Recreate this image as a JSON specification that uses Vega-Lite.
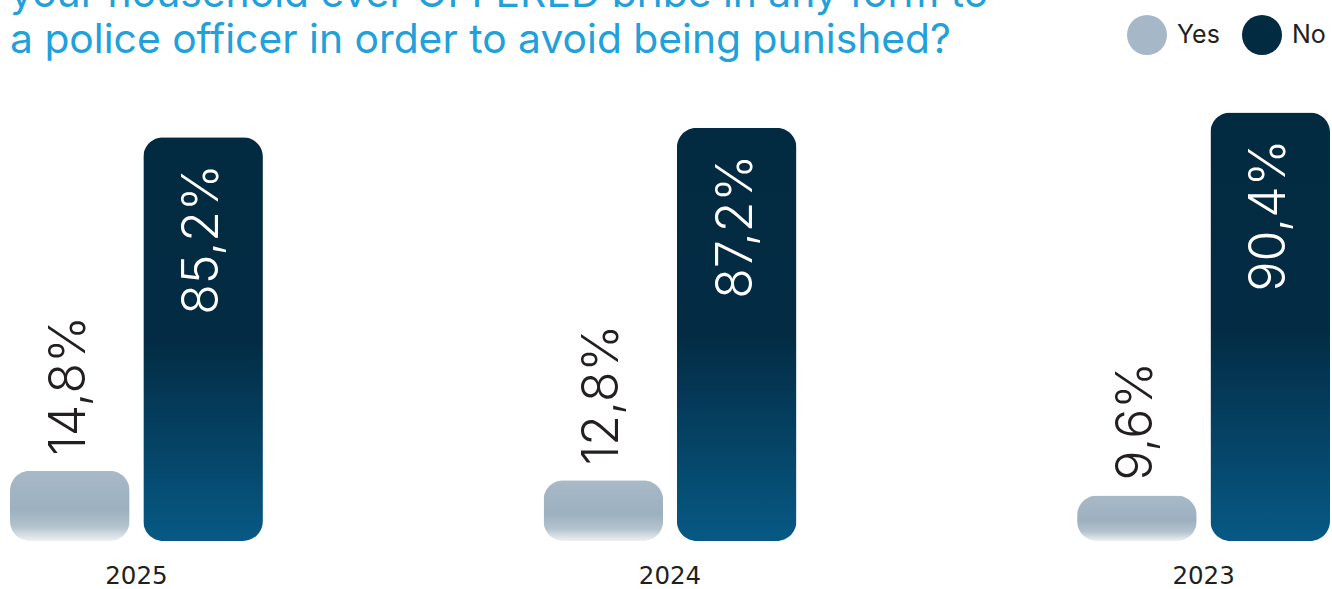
{
  "$schema": "https://vega.github.io/schema/vega-lite/v6.json",
  "width": 1320,
  "height": 474,
  "autosize": {"type": "none"},
  "padding": {"left": 10, "top": 67, "right": 2, "bottom": 48},
  "background": "white",
  "title": {
    "text": ["your household ever OFFERED bribe in any form to", "a police officer in order to avoid being punished?"],
    "anchor": "start",
    "frame": "group",
    "font": "Inter",
    "fontSize": 40.8,
    "fontWeight": "normal",
    "color": "#22a0da",
    "lineHeight": 46,
    "offset": -47
  },
  "data": {
    "values": [
      {"year": "2025", "answer": "Yes", "value": 14.8, "label": "14,8%"},
      {"year": "2025", "answer": "No", "value": 85.2, "label": "85,2%"},
      {"year": "2024", "answer": "Yes", "value": 12.8, "label": "12,8%"},
      {"year": "2024", "answer": "No", "value": 87.2, "label": "87,2%"},
      {"year": "2023", "answer": "Yes", "value": 9.6, "label": "9,6%"},
      {"year": "2023", "answer": "No", "value": 90.4, "label": "90,4%"}
    ]
  },
  "encoding": {
    "x": {
      "field": "year",
      "type": "nominal",
      "sort": ["2025", "2024", "2023"],
      "scale": {"paddingInner": 0.526, "paddingOuter": 0},
      "axis": {"title": null, "labelAngle": 0, "labelFontSize": 24.5, "labelFont": "DejaVu Sans", "labelColor": "#231f20", "labelPadding": 23, "domain": false, "ticks": false, "grid": false}
    },
    "xOffset": {
      "field": "answer",
      "type": "nominal",
      "sort": ["Yes", "No"],
      "scale": {"domain": ["Yes", "No"], "paddingInner": 0.103, "paddingOuter": 0}
    },
    "y": {
      "field": "value",
      "type": "quantitative",
      "scale": {"domain": [0, 100]},
      "axis": null
    }
  },
  "layer": [
    {
      "transform": [{"filter": "datum.answer === 'Yes'"}],
      "mark": {
        "type": "bar",
        "cornerRadius": 20,
        "color": {
          "gradient": "linear",
          "x1": 0, "y1": 0, "x2": 0, "y2": 1,
          "stops": [
            {"offset": 0, "color": "#a8b9c7"},
            {"offset": 0.55, "color": "#9cb0bf"},
            {"offset": 0.8, "color": "#b4c3ce"},
            {"offset": 1, "color": "#eef1f3"}
          ]
        }
      }
    },
    {
      "transform": [{"filter": "datum.answer === 'No'"}],
      "mark": {
        "type": "bar",
        "cornerRadius": 20,
        "color": {
          "gradient": "linear",
          "x1": 0, "y1": 0, "x2": 0, "y2": 1,
          "stops": [
            {"offset": 0, "color": "#022a40"},
            {"offset": 0.5, "color": "#032b43"},
            {"offset": 1, "color": "#075985"}
          ]
        }
      }
    },
    {
      "transform": [{"filter": "datum.answer === 'Yes'"}],
      "mark": {"type": "text", "angle": 270, "align": "left", "baseline": "middle", "dx": 15, "font": "Inter", "fontWeight": 300, "fontSize": 50, "color": "#231f20"},
      "encoding": {"text": {"field": "label"}}
    },
    {
      "transform": [{"filter": "datum.answer === 'No'"}],
      "mark": {"type": "text", "angle": 270, "align": "right", "baseline": "middle", "dx": -27, "font": "Inter", "fontWeight": 300, "fontSize": 50, "color": "#ffffff"},
      "encoding": {"text": {"field": "label"}}
    },
    {
      "mark": {"type": "point", "filled": true, "shape": "circle", "opacity": 0},
      "encoding": {
        "color": {
          "field": "answer",
          "type": "nominal",
          "scale": {"domain": ["Yes", "No"], "range": ["#a6b8c8", "#022a40"]},
          "legend": {
            "orient": "none",
            "legendX": 1117,
            "legendY": -52,
            "direction": "horizontal",
            "title": null,
            "padding": 0,
            "symbolSize": 1600,
            "symbolType": "circle",
            "symbolOpacity": 1,
            "symbolStrokeWidth": 0,
            "labelFont": "Inter",
            "labelFontSize": 25,
            "labelColor": "#231f20",
            "labelOffset": 10,
            "columnPadding": 22
          }
        }
      }
    }
  ],
  "config": {"view": {"stroke": null}}
}
